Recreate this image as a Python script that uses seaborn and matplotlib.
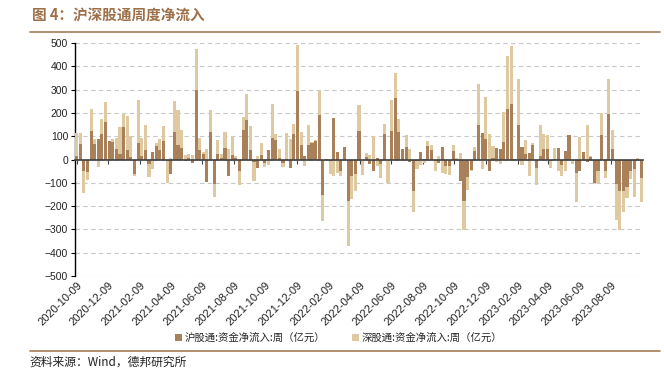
import numpy as np
import pandas as pd
import matplotlib
matplotlib.use('Agg')
import matplotlib.pyplot as plt
import matplotlib.dates as mdates
from matplotlib.lines import Line2D
from matplotlib.patches import Patch
import seaborn as sns

# -------------------------------
# Data: weekly net inflow (100m CNY)
# -------------------------------
weeks = pd.date_range('2020-10-09', periods=157, freq='7D')

sh_flow = [15, 69, -49, -55, 122, 68, 87, 110, 160, 78,
           77, 46, 24, 140, 43, 10, -63, 72, 17, 43,
           -20, 34, 60, 40, 81, -5, -63, 119, 64, 49,
           -8, 5, -15, 297, 41, 23, -95, 117, -104, 26,
           8, 51, -70, 20, 5, -49, 127, 170, 40, -10,
           -34, 20, -13, 40, 94, 83, 5, -15, 2, -34,
           111, 294, 64, 16, 64, 71, 79, 193, -153, 2,
           -8, 177, 31, -49, 54, -177, -70, -63, 123, -3,
           13, -17, -51, 8, -17, 110, -3, 121, 266, 119,
           47, 54, -12, -134, -5, 34, 3, 59, 40, -5,
           -13, 54, -27, -27, 39, 2, -94, -177, -74, -46,
           37, 149, 114, 89, -49, 5, 50, 47, 76, 217,
           239, 1, 149, 54, 26, 27, 61, -36, 16, 44,
           47, -5, 3, 50, -24, 39, 104, -3, -56, -51,
           34, -10, 12, -99, -49, 106, -49, 197, 46, -106,
           -134, -134, -117, -49, -41, 3, -79]

sz_flow = [100, 45, -95, -33, 96, 22, -30, 63, 87, 3,
           10, 46, 115, 57, 143, 92, -8, 183, 76, 107,
           -56, -41, 10, 50, 64, -95, 8, 131, 151, 78,
           18, 20, 20, 176, 52, 10, 45, 96, -56, 58,
           14, 69, 44, 81, 10, -60, 56, 113, 103, -81,
           16, 50, -17, -24, 143, 26, 42, -15, 111, 90,
           43, 197, 53, -27, 85, 5, 3, 101, -111, -3,
           -55, -69, -58, -21, -5, -193, -100, -71, 110, -65,
           17, 20, 100, -27, -60, 43, -98, 135, 105, 57,
           -7, 52, 46, -90, -36, -24, -15, 20, 23, -45,
           14, -59, -37, -40, 24, 3, 30, -124, -56, -5,
           19, 175, -41, 178, 111, 52, -10, -21, 127, 226,
           247, 2, 195, -24, 58, -70, 9, -74, 133, 67,
           59, -29, 46, -51, -46, -49, 0, -17, -128, 97,
           -5, 150, 4, -5, -50, 94, -31, 150, 81, -154,
           -167, -93, -46, -35, -118, 4, -101]

series_names = ['沪股通:资金净流入:周（亿元）', '深股通:资金净流入:周（亿元）']
title = '图 4：沪深股通周度净流入'
source = '资料来源：Wind，德邦研究所'

dark = '#A8805A'
light = '#DEC9A1'
brown = '#A47B55'

df = pd.DataFrame({'week': weeks, 'sh': sh_flow, 'sz': sz_flow})
# stacked columns: positives stack up, negatives stack down
same_sign = np.sign(df['sh']) == np.sign(df['sz'])
df['sz_base'] = np.where(same_sign, df['sh'], 0)

# -------------------------------
# Plot
# -------------------------------
sns.set_theme(style='white')
plt.rcParams['font.family'] = ['Liberation Sans', 'Noto Sans CJK SC']
plt.rcParams['axes.unicode_minus'] = True

fig, ax = plt.subplots(figsize=(6.64, 3.72), dpi=100)
fig.subplots_adjust(left=0.113, right=0.968, top=0.884, bottom=0.258)

bar_w = 6.0
ax.bar(df['week'], df['sh'], width=bar_w, color=dark, linewidth=0, zorder=3)
ax.bar(df['week'], df['sz'], bottom=df['sz_base'], width=bar_w, color=light, linewidth=0, zorder=3)

ax.set_ylim(-500, 500)
ax.set_yticks(range(-500, 501, 100))
ax.set_xlim(weeks[0] - pd.Timedelta(days=3), weeks[-1] + pd.Timedelta(days=2.5))

ax.yaxis.grid(True, linestyle=(0, (4, 3)), color='#C8C8C8', linewidth=0.8, zorder=0)
ax.xaxis.grid(False)

ax.xaxis.set_major_locator(mdates.MonthLocator(bymonth=[2, 4, 6, 8, 10, 12], bymonthday=9))
ax.xaxis.set_major_formatter(mdates.DateFormatter('%Y-%m-%d'))

for s in ['top', 'right']:
    ax.spines[s].set_visible(False)
ax.spines['left'].set_color('black')
ax.spines['left'].set_linewidth(1.0)
ax.spines['bottom'].set_position(('data', 0))
ax.spines['bottom'].set_color('#404040')
ax.spines['bottom'].set_linewidth(1.2)
ax.spines['bottom'].set_zorder(4)

ax.tick_params(axis='y', which='major', left=True, length=3, width=0.8, color='black',
               labelsize=7.5, pad=2, labelcolor='#222222')
ax.tick_params(axis='x', which='major', bottom=True, length=3, width=0.8, color='#404040',
               labelsize=8, pad=84, labelcolor='#222222')
for lbl in ax.get_xticklabels():
    lbl.set_rotation(45)
    lbl.set_ha('right')
    lbl.set_va('top')
    lbl.set_rotation_mode('anchor')

handles = [Patch(facecolor=dark, edgecolor='none'), Patch(facecolor=light, edgecolor='none')]
fig.legend(handles, series_names, loc='center', bbox_to_anchor=(0.51, 0.091), ncol=2,
           frameon=False, handlelength=0.7, handleheight=0.7,
           handletextpad=0.2, columnspacing=2.6, prop={'family': ['Noto Sans CJK SC'], 'size': 7.5})

fig.text(0.048, 0.957, title, fontsize=10.5, color='#9E7049', fontweight='bold',
         va='center', ha='left', family=['Noto Sans CJK SC'])
fig.add_artist(Line2D([0.045, 0.994], [0.913, 0.913], transform=fig.transFigure,
                      color=brown, linewidth=1.2))
fig.add_artist(Line2D([0.045, 0.994], [0.056, 0.056], transform=fig.transFigure,
                      color=brown, linewidth=1.2))
fig.text(0.045, 0.026, source, fontsize=8.5, color='#222222', va='center', ha='left',
         family=['Noto Sans CJK SC', 'Liberation Sans'])

fig.savefig('out.png', dpi=100)
plt.close(fig)
